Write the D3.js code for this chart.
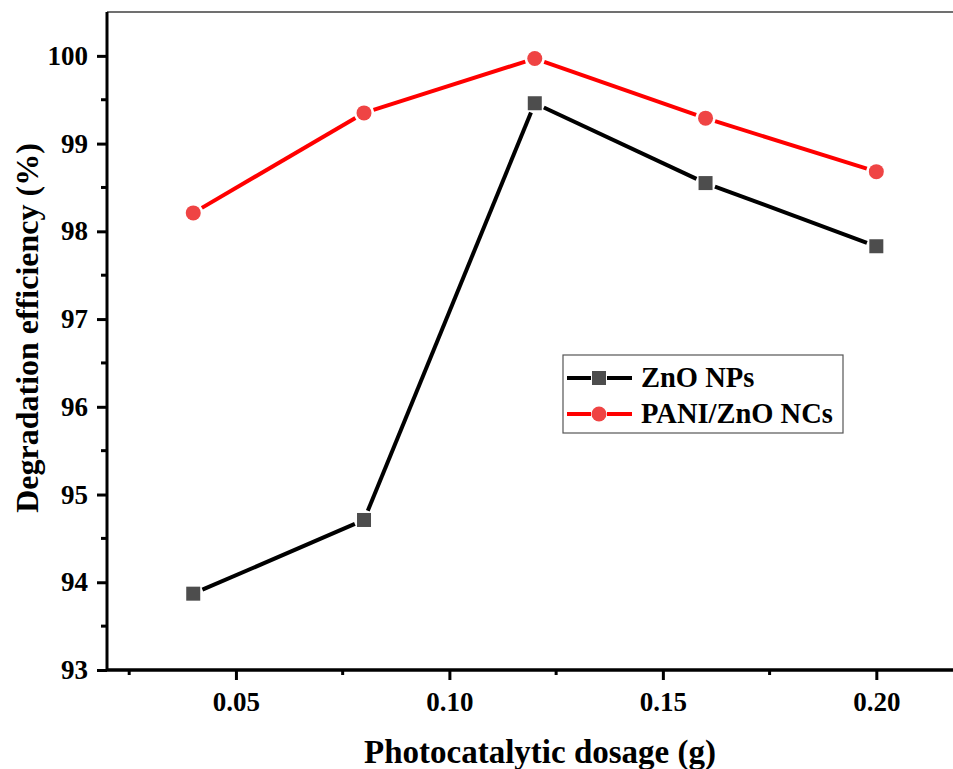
<!DOCTYPE html>
<html><head><meta charset="utf-8">
<script src="https://d3js.org/d3.v7.min.js"></script>
<style>body{margin:0;background:#fff}svg{display:block}</style>
</head><body>
<script>
const dosage = [0.04, 0.08, 0.12, 0.16, 0.20];
const znoNPs = [93.87, 94.71, 99.46, 98.55, 97.83];
const paniZnO = [98.21, 99.35, 99.97, 99.29, 98.68];
const seriesNames = ["ZnO NPs", "PANI/ZnO NCs"];
const xTicks = [0.05, 0.10, 0.15, 0.20];
const yTicks = [93, 94, 95, 96, 97, 98, 99, 100];

const W = 953, H = 769;
const svg = d3.select("body").append("svg").attr("width", W).attr("height", H);
const font = "'Liberation Serif','Times New Roman',serif";

const x = d3.scaleLinear().domain([0.0198, 0.2196]).range([107, 960]);
const y = d3.scaleLinear().domain([93, 100.5]).range([670, 12]);

// top border
svg.append("line").attr("x1", 107).attr("x2", W).attr("y1", 12).attr("y2", 12)
  .attr("stroke", "#707070").attr("stroke-width", 2);

// Y axis
const yAxis = svg.append("g").attr("transform", "translate(107,0)");
yAxis.call(d3.axisLeft(y).tickValues(yTicks).tickFormat(d3.format("d")).tickSize(10).tickPadding(9));
yAxis.selectAll(".tick line").attr("stroke-width", 3);
const yMinor = d3.range(93.5, 100.5, 1);
yAxis.selectAll(".minor").data(yMinor).enter().append("line")
  .attr("x1", 0).attr("x2", -6).attr("y1", d => y(d)).attr("y2", d => y(d))
  .attr("stroke", "#000").attr("stroke-width", 3);
yAxis.select(".domain").attr("stroke-width", 3).attr("d", `M0,${y(100.5)}V${670}`);

// X axis
const xAxis = svg.append("g").attr("transform", "translate(0,670)");
xAxis.call(d3.axisBottom(x).tickValues(xTicks).tickFormat(d3.format(".2f")).tickSize(10).tickPadding(12));
xAxis.selectAll(".tick line").attr("stroke-width", 3);
const xMinor = [0.025, 0.075, 0.125, 0.175];
xAxis.selectAll(".minor").data(xMinor).enter().append("line")
  .attr("x1", d => x(d)).attr("x2", d => x(d)).attr("y1", 0).attr("y2", 5)
  .attr("stroke", "#000").attr("stroke-width", 3);
xAxis.select(".domain").attr("stroke-width", 3.5).attr("d", `M${107},0H${W}`);

svg.selectAll(".tick text").attr("font-family", font).attr("font-weight", "bold")
  .attr("font-size", 27).attr("fill", "#000");

// axis titles
svg.append("text").attr("x", 540).attr("y", 763).attr("text-anchor", "middle")
  .attr("font-family", font).attr("font-weight", "bold").attr("font-size", 33)
  .text("Photocatalytic dosage (g)");
svg.append("text").attr("transform", "translate(38,328) rotate(-90)").attr("text-anchor", "middle")
  .attr("font-family", font).attr("font-weight", "bold").attr("font-size", 32)
  .text("Degradation efficiency (%)");

// series
const series = [
  {name: seriesNames[0], vals: znoNPs, color: "#000", fill: "#4d4d4d", shape: "square"},
  {name: seriesNames[1], vals: paniZnO, color: "#ff0000", fill: "#ef4444", shape: "circle"}
];
const gap = 10;
series.forEach(s => {
  const pts = dosage.map((d, i) => [x(d), y(s.vals[i])]);
  for (let i = 0; i < pts.length - 1; i++) {
    const [x1, y1] = pts[i], [x2, y2] = pts[i + 1];
    const L = Math.hypot(x2 - x1, y2 - y1);
    const ux = (x2 - x1) / L, uy = (y2 - y1) / L;
    svg.append("line").attr("x1", x1 + ux * gap).attr("y1", y1 + uy * gap)
      .attr("x2", x2 - ux * gap).attr("y2", y2 - uy * gap)
      .attr("stroke", s.color).attr("stroke-width", 4);
  }
  pts.forEach(p => {
    if (s.shape === "square") {
      svg.append("rect").attr("x", p[0] - 7).attr("y", p[1] - 7).attr("width", 14).attr("height", 14).attr("fill", s.fill);
    } else {
      svg.append("circle").attr("cx", p[0]).attr("cy", p[1]).attr("r", 7.5).attr("fill", s.fill);
    }
  });
});

// legend
const lg = svg.append("g");
lg.append("rect").attr("x", 563).attr("y", 355).attr("width", 280).attr("height", 78)
  .attr("fill", "#fff").attr("stroke", "#555").attr("stroke-width", 1.2);
series.forEach((s, i) => {
  const cy = 378 + i * 36;
  lg.append("line").attr("x1", 567).attr("x2", 591).attr("y1", cy).attr("y2", cy).attr("stroke", s.color).attr("stroke-width", 4);
  lg.append("line").attr("x1", 607).attr("x2", 632).attr("y1", cy).attr("y2", cy).attr("stroke", s.color).attr("stroke-width", 4);
  if (s.shape === "square") lg.append("rect").attr("x", 592).attr("y", cy - 7).attr("width", 14).attr("height", 14).attr("fill", s.fill);
  else lg.append("circle").attr("cx", 599).attr("cy", cy).attr("r", 7.5).attr("fill", s.fill);
  lg.append("text").attr("x", 641).attr("y", cy + 9).attr("font-family", font).attr("font-weight", "bold")
    .attr("font-size", 28.5).text(s.name);
});
</script>
</body></html>
